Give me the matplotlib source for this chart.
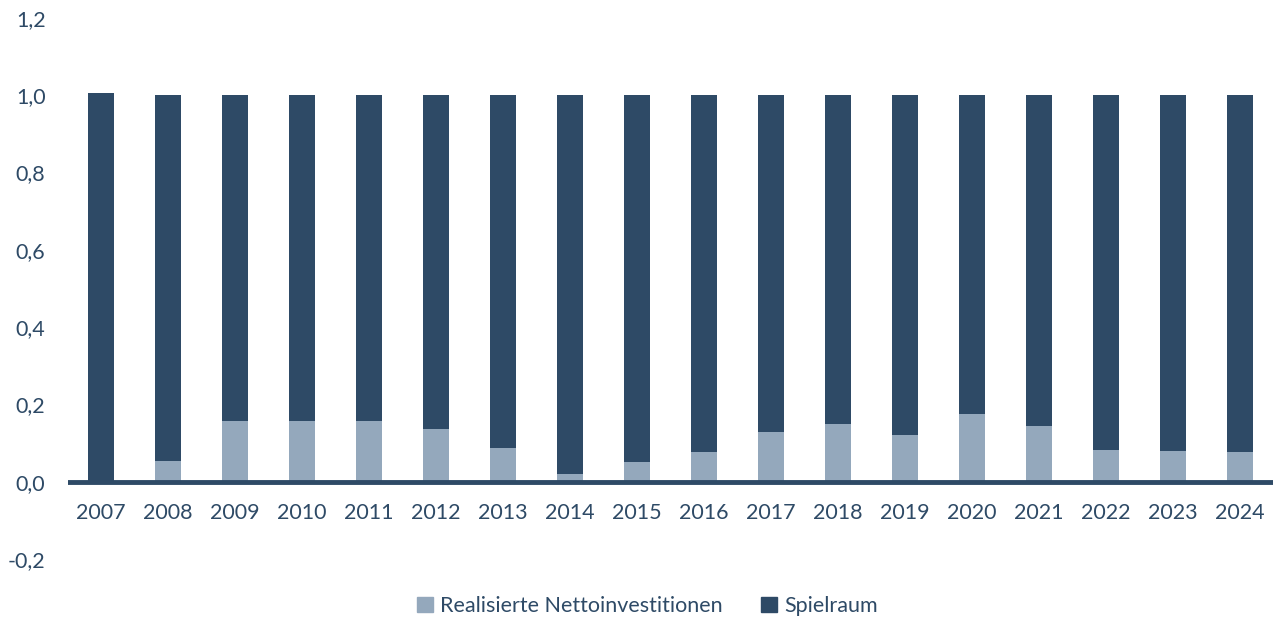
import numpy as np
import matplotlib.pyplot as plt
from matplotlib.patches import Patch

years = [str(y) for y in range(2007, 2025)]
realisiert = [0.0, 0.054, 0.158, 0.158, 0.158, 0.136, 0.088, 0.021, 0.052,
              0.077, 0.129, 0.148, 0.121, 0.176, 0.144, 0.083, 0.079, 0.077]
spielraum = [1.005, 0.946, 0.842, 0.842, 0.842, 0.864, 0.912, 0.979, 0.948,
             0.923, 0.871, 0.852, 0.879, 0.824, 0.856, 0.917, 0.921, 0.923]
yticks = [-0.2, 0.0, 0.2, 0.4, 0.6, 0.8, 1.0, 1.2]

light = "#94a8bc"
dark = "#2e4a66"
txt = "#2e4a66"

plt.rcParams['font.family'] = ['Lato', 'DejaVu Sans']

fig = plt.figure(figsize=(12.77, 6.19), dpi=100)
ax = fig.add_axes([0.053, 0.097, 0.944, 0.874])

x = np.arange(len(years))
w = 0.39
ax.bar(x, realisiert, w, color=light, label="Realisierte Nettoinvestitionen")
ax.bar(x, spielraum, w, bottom=realisiert, color=dark, label="Spielraum")
ax.axhline(0, color=dark, lw=3.5, zorder=3)

ax.set_xlim(-0.5, len(years) - 0.5)
ax.set_ylim(-0.2, 1.2)
ax.set_yticks(yticks)
ax.set_yticklabels([f"{v:.1f}".replace(".", ",") for v in yticks])
ax.tick_params(axis='y', length=0, pad=16, labelsize=15.5, labelcolor=txt)
ax.set_xticks([])
for s in ax.spines.values():
    s.set_visible(False)

# year labels sit just under the zero line
for xi, yr in zip(x, years):
    ax.text(xi, -0.08, yr, ha='center', va='center', fontsize=15.5, color=txt)

handles = [Patch(color=light), Patch(color=dark)]
fig.legend(handles, ["Realisierte Nettoinvestitionen", "Spielraum"],
           loc='center', bbox_to_anchor=(0.507, 0.021), ncol=2, frameon=False,
           fontsize=15.5, labelcolor=txt, handlelength=0.75, handleheight=0.75,
           handletextpad=0.3, columnspacing=1.8)

fig.savefig("out.png", dpi=100)
